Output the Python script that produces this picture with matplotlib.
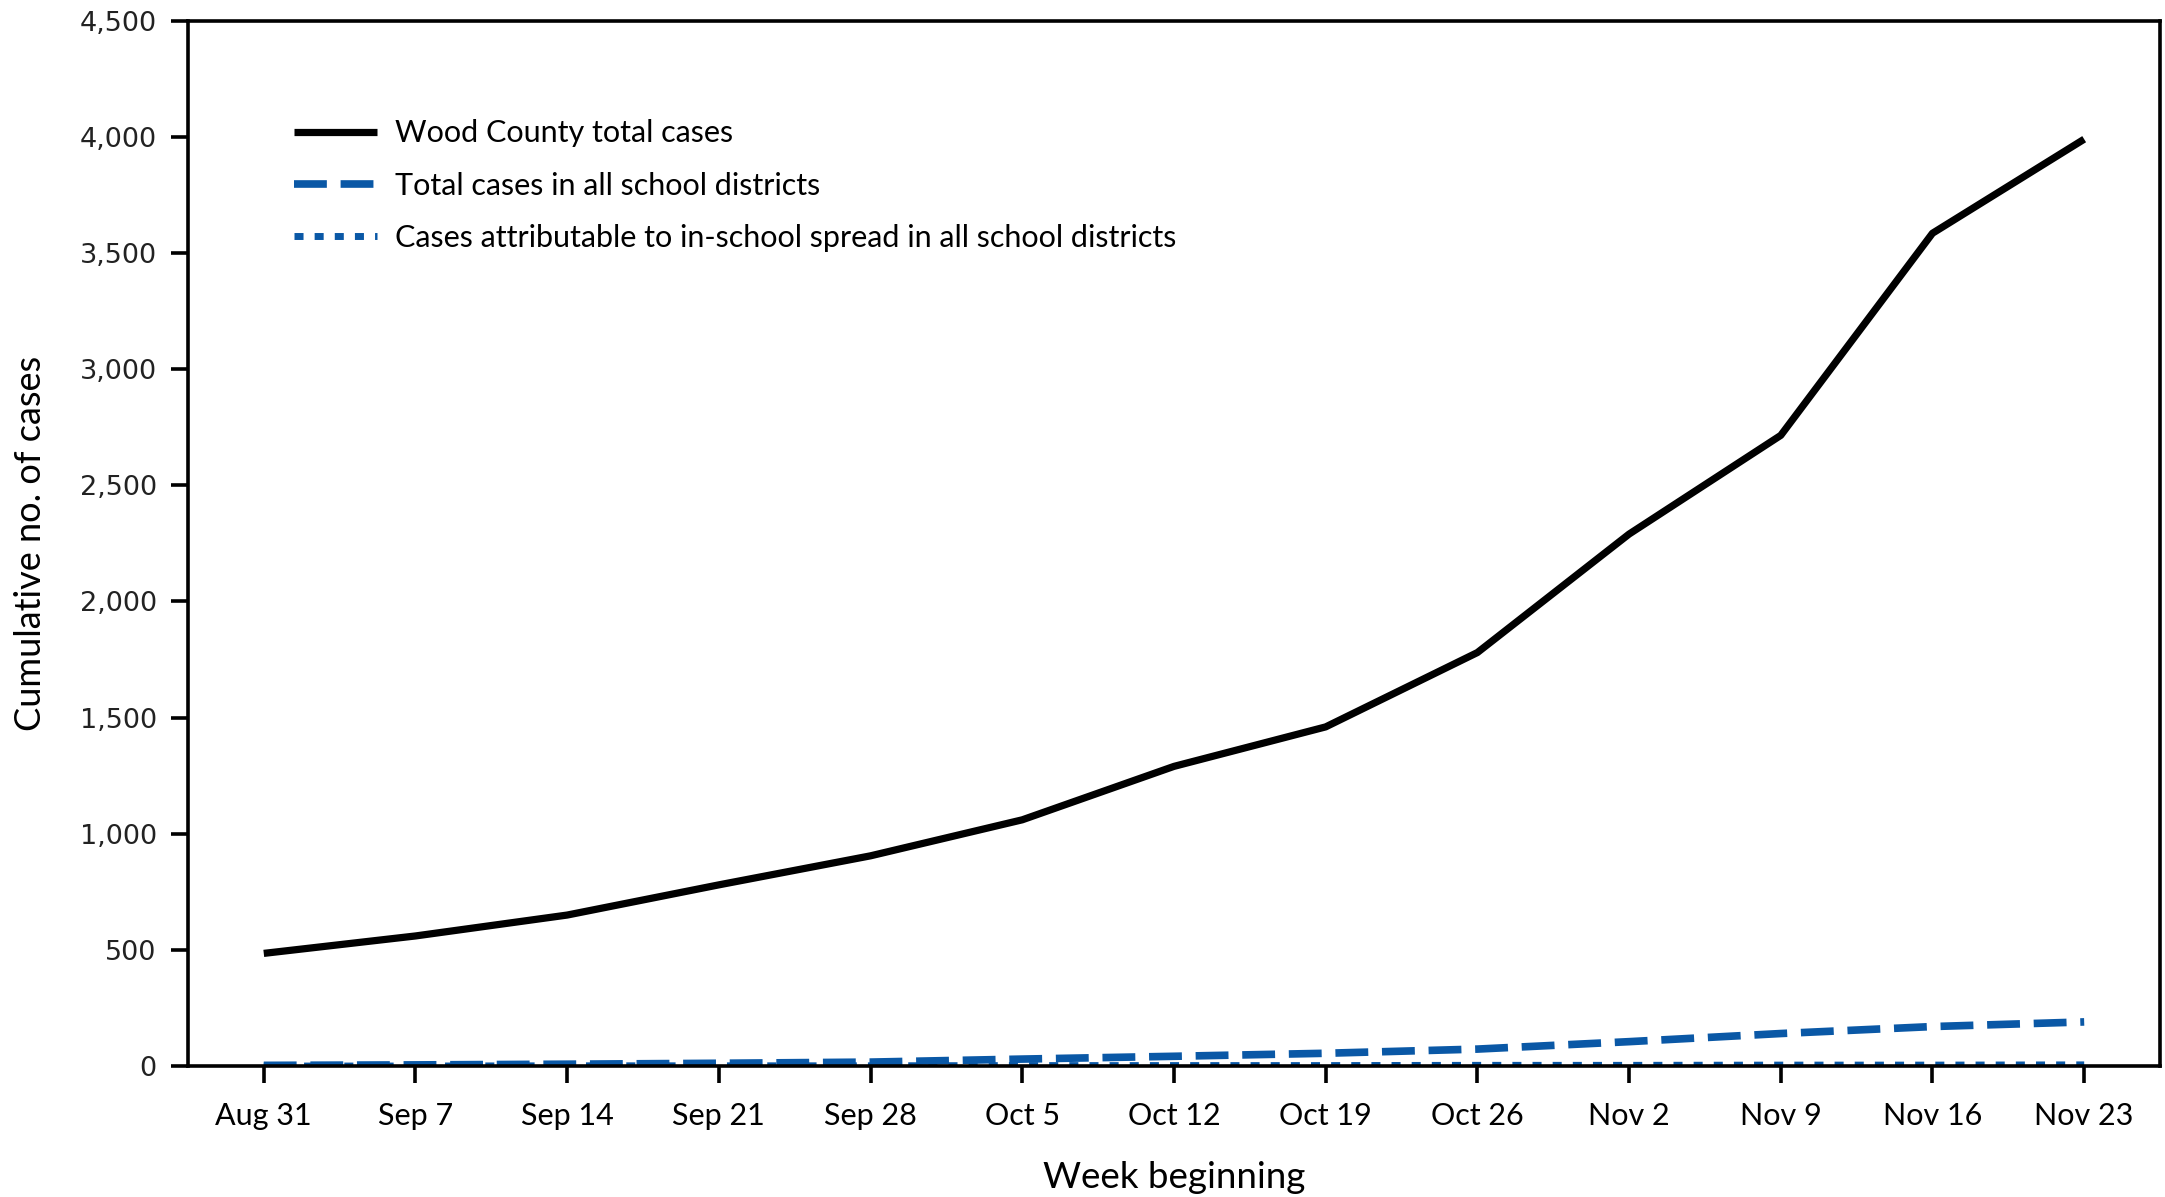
import matplotlib
matplotlib.use("Agg")
import matplotlib.pyplot as plt

weeks = ["Aug 31", "Sep 7", "Sep 14", "Sep 21", "Sep 28", "Oct 5", "Oct 12",
         "Oct 19", "Oct 26", "Nov 2", "Nov 9", "Nov 16", "Nov 23"]
county_total = [485, 560, 650, 780, 905, 1060, 1290, 1460, 1780, 2290, 2715, 3585, 3990]
school_total = [3, 5, 8, 12, 17, 30, 42, 55, 73, 105, 140, 170, 190]
in_school = [0, 0, 1, 1, 1, 2, 2, 2, 3, 3, 4, 4, 5]

yticks = [0, 500, 1000, 1500, 2000, 2500, 3000, 3500, 4000, 4500]

text_font = ["Lato", "DejaVu Sans"]
num_font = ["DejaVu Sans"]
blue = "#0a58a6"

fig = plt.figure(figsize=(21.65, 11.97), dpi=100)
ax = fig.add_axes([0.0868, 0.1094, 0.9109, 0.8733])

x = list(range(len(weeks)))
ax.plot(x, county_total, color="black", lw=5.2, solid_capstyle="butt",
        label="Wood County total cases")
ax.plot(x, school_total, color=blue, lw=5.5, linestyle=(0, (4.3, 1.8)),
        label="Total cases in all school districts")
ax.plot(x, in_school, color=blue, lw=5.0, linestyle=(0, (1.3, 1.6)),
        label="Cases attributable to in-school spread in all school districts")

ax.set_xlim(-0.5, 12.5)
ax.set_ylim(0, 4500)
ax.set_xticks(x)
ax.set_xticklabels(weeks, family=text_font, fontsize=22)
ax.set_yticks(yticks)
ax.set_yticklabels([f"{v:,}" for v in yticks], family=num_font, fontsize=19.5,
                   color="#222222")

for s in ax.spines.values():
    s.set_linewidth(2.6)
ax.tick_params(axis="both", width=2.6, length=12, color="black")
ax.tick_params(axis="x", pad=14)
ax.tick_params(axis="y", pad=10.5)

ax.set_xlabel("Week beginning", family=text_font, fontsize=26.5)
ax.xaxis.set_label_coords(0.5, -0.107)
ax.xaxis.label.set_va("center")
ax.set_ylabel("Cumulative no. of cases", family=text_font, fontsize=26)
ax.yaxis.set_label_coords(-0.080, 0.5)
ax.yaxis.label.set_va("center")

leg = ax.legend(loc="upper left", bbox_to_anchor=(0.040, 0.932), frameon=False,
                prop={"family": text_font, "size": 22}, handlelength=2.7,
                handletextpad=0.6, labelspacing=0.8)

fig.savefig("out.png", dpi=100)
